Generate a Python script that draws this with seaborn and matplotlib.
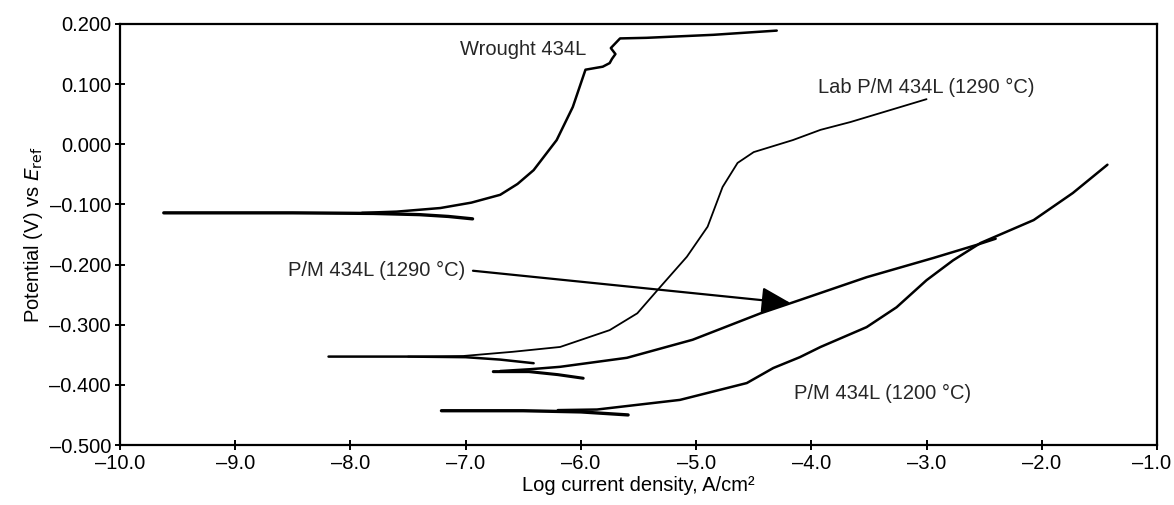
import matplotlib
matplotlib.use("Agg")
import matplotlib.pyplot as plt
import matplotlib.transforms as mtransforms
import seaborn as sns
import pandas as pd
from matplotlib.ticker import FuncFormatter

sns.set_theme(style="ticks")
plt.rcParams['font.family'] = ['Liberation Sans', 'DejaVu Sans']

# Wrought 434L
wr_cat_x = [-9.62, -8.5, -7.8, -7.4, -7.15, -6.94]
wr_cat_y = [-0.114, -0.114, -0.115, -0.117, -0.120, -0.124]
wr_an_x = [-7.9, -7.6, -7.22, -6.95, -6.70, -6.55, -6.41, -6.21, -6.07, -5.96,
           -5.81, -5.75, -5.73, -5.70, -5.74, -5.69, -5.66, -5.43, -4.85, -4.30]
wr_an_y = [-0.114, -0.112, -0.106, -0.097, -0.084, -0.066, -0.043, 0.007, 0.062, 0.124,
           0.129, 0.135, 0.142, 0.150, 0.160, 0.170, 0.176, 0.177, 0.182, 0.189]

# Lab P/M 434L (1290 C)
lab_cat_x = [-8.19, -7.5, -7.0, -6.7, -6.41]
lab_cat_y = [-0.353, -0.353, -0.354, -0.358, -0.364]
lab_an_x = [-7.5, -7.02, -6.59, -6.18, -5.75, -5.51, -5.31, -5.08, -4.90, -4.77,
            -4.64, -4.50, -4.16, -3.92, -3.66, -3.00]
lab_an_y = [-0.353, -0.352, -0.345, -0.337, -0.309, -0.281, -0.237, -0.187, -0.137, -0.071,
            -0.031, -0.013, 0.007, 0.024, 0.037, 0.075]

# P/M 434L (1290 C)
pm90_cat_x = [-6.76, -6.45, -6.2, -5.98]
pm90_cat_y = [-0.378, -0.378, -0.383, -0.389]
pm90_an_x = [-6.70, -6.44, -6.18, -5.60, -5.03, -4.44, -4.10, -3.52, -2.94, -2.56,
             -2.40]
pm90_an_y = [-0.377, -0.374, -0.370, -0.355, -0.325, -0.281, -0.259, -0.221, -0.189, -0.167,
             -0.157]

# P/M 434L (1200 C)
pm00_cat_x = [-7.21, -6.5, -6.0, -5.59]
pm00_cat_y = [-0.443, -0.443, -0.445, -0.450]
pm00_an_x = [-6.2, -5.86, -5.14, -4.56, -4.33, -4.10, -3.92, -3.52, -3.26, -3.00,
             -2.77, -2.53, -2.07, -1.73, -1.43]
pm00_an_y = [-0.442, -0.441, -0.425, -0.397, -0.372, -0.354, -0.337, -0.304, -0.271, -0.226,
             -0.193, -0.164, -0.126, -0.081, -0.034]

curves = [
    (wr_cat_x, wr_cat_y, 2.4), (wr_an_x, wr_an_y, 1.8),
    (lab_cat_x, lab_cat_y, 1.8), (lab_an_x, lab_an_y, 1.3),
    (pm90_cat_x, pm90_cat_y, 2.2), (pm90_an_x, pm90_an_y, 1.8),
    (pm00_cat_x, pm00_cat_y, 2.4), (pm00_an_x, pm00_an_y, 1.8),
]

fig = plt.figure(figsize=(11.74, 5.05), dpi=100)
ax = fig.add_axes([0.1022, 0.1188, 0.8833, 0.8337])

for xs, ys, lw in curves:
    df = pd.DataFrame({"x": xs, "y": ys})
    sns.lineplot(data=df, x="x", y="y", sort=False, estimator=None,
                 color="black", linewidth=lw, ax=ax)

fs = 14.5
ax.set_xlim(-10.0, -1.0)
ax.set_ylim(-0.5, 0.2)
ax.set_xticks([-10, -9, -8, -7, -6, -5, -4, -3, -2, -1])
ax.set_yticks([-0.5, -0.4, -0.3, -0.2, -0.1, 0.0, 0.1, 0.2])
ax.xaxis.set_major_formatter(FuncFormatter(lambda v, p: f"{v:.1f}".replace("-", "\u2013")))
ax.yaxis.set_major_formatter(FuncFormatter(lambda v, p: f"{v:.3f}".replace("-", "\u2013")))
ax.tick_params(direction="inout", length=7, width=1.4, labelsize=fs, color="black",
               labelcolor="black", pad=3)
for s in ax.spines.values():
    s.set_color("black")
    s.set_linewidth(1.6)

# keep the last x label inside the figure
last = ax.get_xticklabels()[-1]
last.set_transform(last.get_transform() +
                   mtransforms.ScaledTranslation(-5 / 100, 0, fig.dpi_scale_trans))

ax.set_xlabel("Log current density, A/cm\u00b2", fontsize=fs, color="black", labelpad=2)
ax.set_ylabel("Potential (V) vs $\\mathit{E}_{\\mathrm{ref}}$", fontsize=fs, color="black", labelpad=3)

ax.text(-6.50, 0.158, "Wrought 434L", fontsize=fs, ha="center", va="center")
ax.text(-3.0, 0.095, "Lab P/M 434L (1290 \u00b0C)", fontsize=fs, ha="center", va="center")
ax.text(-3.38, -0.414, "P/M 434L (1200 \u00b0C)", fontsize=fs, ha="center", va="center")
ax.annotate("P/M 434L (1290 \u00b0C)", xy=(-4.18, -0.264), xytext=(-7.77, -0.209),
            fontsize=fs, ha="center", va="center",
            arrowprops=dict(arrowstyle="-|>,head_length=0.9,head_width=0.4", color="black",
                            lw=1.6, shrinkA=3, shrinkB=0, mutation_scale=20,
                            relpos=(1.0, 0.5)))

fig.savefig("out.png", dpi=100)
